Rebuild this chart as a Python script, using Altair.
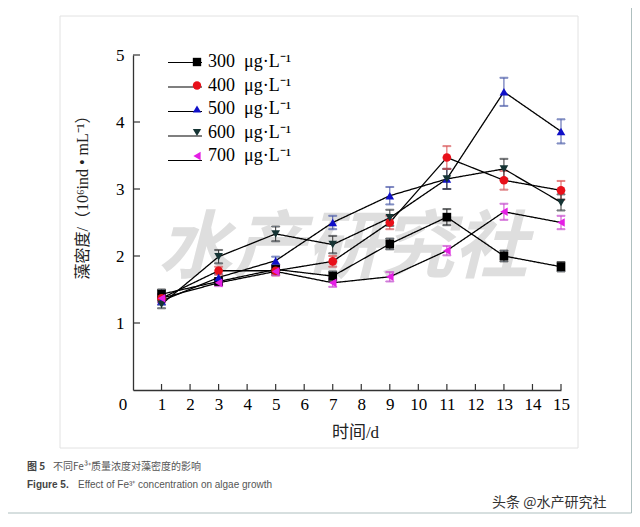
import altair as alt
import pandas as pd

days = [1, 3, 5, 7, 9, 11, 13, 15]
series = ["300\u2002μg·L⁻¹", "400\u2002μg·L⁻¹", "500\u2002μg·L⁻¹", "600\u2002μg·L⁻¹", "700\u2002μg·L⁻¹"]

v300 = [1.43, 1.62, 1.80, 1.70, 2.18, 2.58, 2.00, 1.84]
v400 = [1.37, 1.78, 1.78, 1.92, 2.50, 3.47, 3.13, 2.98]
v500 = [1.33, 1.68, 1.93, 2.50, 2.90, 3.15, 4.45, 3.86]
v600 = [1.28, 1.99, 2.33, 2.17, 2.57, 3.15, 3.30, 2.80]
v700 = [1.37, 1.60, 1.77, 1.60, 1.69, 2.08, 2.66, 2.50]

e300 = [0.07, 0.05, 0.07, 0.07, 0.08, 0.12, 0.08, 0.07]
e400 = [0.06, 0.06, 0.07, 0.08, 0.10, 0.17, 0.14, 0.14]
e500 = [0.06, 0.05, 0.06, 0.10, 0.13, 0.15, 0.21, 0.18]
e600 = [0.06, 0.10, 0.11, 0.13, 0.12, 0.15, 0.15, 0.12]
e700 = [0.06, 0.05, 0.06, 0.06, 0.07, 0.07, 0.12, 0.10]

marker_colors = ["#000000", "#e8101a", "#1010c8", "#163434", "#e41ee4"]
bar_colors = ["#222222", "#e05050", "#4a58a8", "#333333", "#d040d0"]
shapes = ["square", "circle", "triangle-up", "triangle-down", "triangle-left"]

rows = []
for name, vals, errs in zip(series, [v300, v400, v500, v600, v700], [e300, e400, e500, e600, e700]):
    for d, v, e in zip(days, vals, errs):
        rows.append({"day": d, "series": name, "series2": name, "series3": name,
                     "value": v, "lo": v - e, "hi": v + e})
df = pd.DataFrame(rows)

W, H = 428, 335
SERIF = "Liberation Serif, Noto Sans CJK SC"
xs = alt.Scale(domain=[0, 15], nice=False, zero=False)
ys = alt.Scale(domain=[0, 5], nice=False)

x_axis = alt.Axis(values=list(range(1, 16)), ticks=False, labelPadding=6,
                  labelOverlap=False, labelFlush=False, format="d",
                  title="时间/d", titleFont=SERIF, titleFontSize=17,
                  titleFontWeight="normal", titleX=222, titleY=42,
                  titleBaseline="middle", titleAlign="center")
y_axis = alt.Axis(values=[1, 2, 3, 4, 5], ticks=False, labelPadding=9,
                  labelOverlap=False, labelFlush=False, format="d",
                  title="藻密度/（10⁶ind • mL⁻¹）", titleFont=SERIF,
                  titleFontSize=16, titleFontWeight="normal",
                  titleX=-51, titleY=138, titleAngle=270,
                  titleAlign="center", titleBaseline="middle")

def X(f):
    return alt.X(f, scale=xs, axis=x_axis)

def Y(f):
    return alt.Y(f, scale=ys, axis=y_axis)

one = pd.DataFrame({"a": [0]})

outer = alt.Chart(one).mark_rect(fillOpacity=0, stroke="#aebfbf", strokeWidth=1).encode(
    x=alt.value(-128), x2=alt.value(498.5), y=alt.value(-50), y2=alt.value(458))
inner = alt.Chart(one).mark_rect(fillOpacity=0, stroke="#e2e2e2", strokeWidth=1).encode(
    x=alt.value(-73), x2=alt.value(445), y=alt.value(-39), y2=alt.value(393))

wm = alt.Chart(one).mark_text(text="水产研究社", font="Noto Sans CJK SC", fontSize=74,
                              fontWeight="bold", fontStyle="italic", color="#dedede",
                              align="center", baseline="middle").encode(
    x=alt.value(210), y=alt.value(195))

stroke_enc = alt.Stroke("series3:N", scale=alt.Scale(domain=series, range=bar_colors), legend=None)

bars = alt.Chart(df).mark_rule(strokeWidth=1).encode(
    x=X("day:Q"), y=Y("lo:Q"), y2="hi:Q", stroke=stroke_enc)
cap_hi = alt.Chart(df).mark_tick(orient="horizontal", size=8, thickness=1).encode(
    x=X("day:Q"), y=Y("hi:Q"), stroke=stroke_enc)
cap_lo = alt.Chart(df).mark_tick(orient="horizontal", size=8, thickness=1).encode(
    x=X("day:Q"), y=Y("lo:Q"), stroke=stroke_enc)

line_legend = alt.Legend(title=None, orient="none", legendX=42.5, legendY=-2,
                         symbolType="M-2,0H2", symbolSize=289, symbolStrokeColor="black",
                         symbolFillColor="black", symbolStrokeWidth=1.2, labelExpr="' '",
                         labelOpacity=0, labelFontSize=18,
                         labelFont="Liberation Serif", rowPadding=5.5, padding=0)
lines = alt.Chart(df).mark_line(color="black", strokeWidth=1.3).encode(
    x=X("day:Q"), y=Y("value:Q"),
    strokeDash=alt.StrokeDash("series2:N", scale=alt.Scale(domain=series, range=[[1, 0]] * 5),
                              legend=line_legend))

pt_legend = alt.Legend(title=None, orient="none", legendX=55, legendY=-2, symbolSize=70,
                       symbolStrokeWidth=0, labelOffset=2, labelFontSize=18,
                       labelFont="Liberation Serif", labelColor="black",
                       rowPadding=5.5, padding=0)
points = alt.Chart(df).mark_point(filled=True, size=75, opacity=1).encode(
    x=X("day:Q"), y=Y("value:Q"),
    color=alt.Color("series:N", scale=alt.Scale(domain=series, range=marker_colors), legend=pt_legend),
    shape=alt.Shape("series:N", scale=alt.Scale(domain=series, range=shapes), legend=pt_legend))

xticks = alt.Chart(pd.DataFrame({"t": list(range(1, 16))})).mark_rule(color="#333333", strokeWidth=1.2).encode(
    x=X("t:Q"), y=alt.value(H), y2=alt.value(H - 6))
yticks = alt.Chart(pd.DataFrame({"t": [1, 2, 3, 4, 5]})).mark_rule(color="#333333", strokeWidth=1.2).encode(
    y=Y("t:Q"), x=alt.value(0), x2=alt.value(7))

zero = alt.Chart(one).mark_text(text="0", font="Liberation Serif", fontSize=17, color="black",
                                align="center", baseline="middle").encode(
    x=alt.value(-10), y=alt.value(350))

def txt(s, x, y, size=10, weight="normal", color="#555555", font="Noto Sans CJK SC, Liberation Sans"):
    return alt.Chart(one).mark_text(text=s, font=font, fontSize=size, fontWeight=weight,
                                    color=color, align="left", baseline="middle").encode(
        x=alt.value(x), y=alt.value(y))

cap1a = txt("图  5", -106, 412, weight="bold", color="#444444")
cap1b = txt("不同Fe³⁺质量浓度对藻密度的影响", -80, 412)
cap2a = txt("Figure  5.", -106, 430, weight="bold", color="#444444", font="Liberation Sans")
cap2b = txt("Effect of Fe³⁺ concentration on algae growth", -55, 430, font="Liberation Sans")
mark = txt("头条 @水产研究社", 359, 448, size=14, color="#333333")

chart = alt.layer(outer, inner, wm, bars, cap_hi, cap_lo, lines, points, xticks, yticks,
                  zero, cap1a, cap1b, cap2a, cap2b, mark).resolve_scale(
    color="independent", shape="independent", stroke="independent", strokeDash="independent"
).properties(
    width=W, height=H,
    autosize=alt.AutoSizeParams(type="none"),
    padding={"left": 125, "top": 47, "right": 71, "bottom": 129},
).configure_view(stroke=None).configure_axis(
    domainColor="#333333", domainWidth=1.3, labelFont="Liberation Serif",
    labelFontSize=17, labelColor="black", grid=False, titleColor="#222222"
)

chart.save("out.html", embed_options={"renderer": "svg", "actions": False})
